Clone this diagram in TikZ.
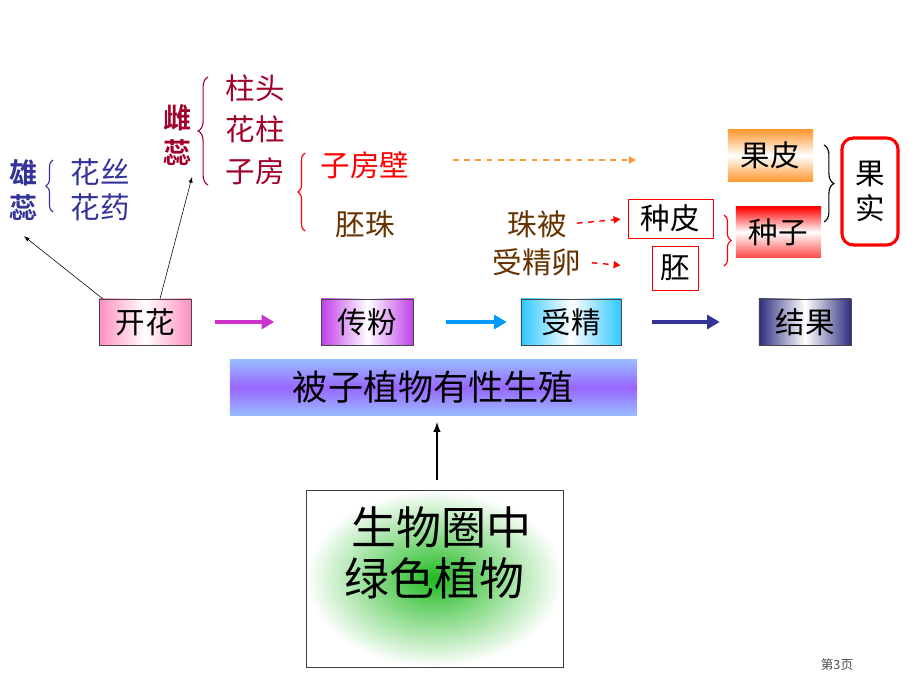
\documentclass[tikz,border=0pt]{standalone}
\usepackage{fontspec}
\setmainfont{Noto Sans CJK SC}[BoldFont={Noto Sans CJK SC Bold}]
\usetikzlibrary{positioning,decorations.pathreplacing,arrows.meta,calc}

\definecolor{xiongblue}{HTML}{333399}
\definecolor{cicrimson}{HTML}{A0002A}
\definecolor{peibrown}{HTML}{663300}
\definecolor{guoorange}{HTML}{FF9933}
\definecolor{kaipink}{HTML}{FF8FC0}
\definecolor{chuanpurple}{HTML}{C040E8}
\definecolor{shoucyan}{HTML}{30C8FF}
\definecolor{jieblue}{HTML}{2E2E80}
\definecolor{arrmagenta}{HTML}{CC33CC}
\definecolor{arrblue}{HTML}{0099FF}
\definecolor{arrnavy}{HTML}{333399}
\definecolor{barlight}{HTML}{CCCCFF}
\definecolor{barblue}{HTML}{99CCFF}
\definecolor{barpurple}{HTML}{9966FF}
\definecolor{lvgreen}{HTML}{22BB22}

\pgfdeclareverticalshading{barshade}{100bp}{color(0bp)=(barblue); color(20bp)=(barblue); color(50bp)=(barpurple); color(80bp)=(barblue); color(92bp)=(barlight); color(100bp)=(barlight)}

\begin{document}
\begin{tikzpicture}[
x=0.025cm, y=-0.025cm,
word/.style={
  inner sep=1pt,
  font=\fontsize{21}{25}\selectfont
  },
vword/.style={
  word,
  align=center,
  font=\fontsize{20}{25}\selectfont\bfseries
  },
stagebox/.style={
  draw=gray!55!black,
  minimum width=2.3cm,
  minimum height=1.15cm,
  inner sep=0pt,
  font=\fontsize{21}{24}\selectfont
  },
redbox/.style={
  draw=red,
  inner sep=0pt,
  font=\fontsize{21}{24}\selectfont
  },
bracer/.style={
  thick,
  decorate,
  decoration={brace,amplitude=6pt}
  },
fatarrow/.style={
  line width=3pt,
  -{Triangle[length=9pt,width=10pt]}
  },
dasharrow/.style={
  line width=1pt,
  dash pattern=on 4pt off 4pt,
  -{Triangle[length=5pt,width=5pt]}
  },
>=latex
]
\useasboundingbox (0,0) rectangle (920,690);

% stamen and pistil
\node[vword, text=xiongblue] (xiongrui) at (24,190) {雄\\蕊};
\node[word, text=xiongblue] (huasi) at (100,172) {花丝};
\node[word, text=xiongblue] (huayao) at (100,207) {花药};
\draw[bracer, xiongblue, decoration={amplitude=5pt}] (53,212) -- (53,160);

\node[vword, text=cicrimson] (cirui) at (178,135) {雌\\蕊};
\node[word, text=cicrimson] (zhutou) at (255,88) {柱头};
\node[word, text=cicrimson] (huazhu) at (255,129) {花柱};
\node[word, text=cicrimson] (zifang) at (255,171) {子房};
\draw[bracer, cicrimson, decoration={amplitude=7pt}] (208,185) -- (208,77);

% ovary
\node[word, text=red] (zifangbi) at (365,165) {子房壁};
\node[word, text=peibrown] (peizhu) at (365,224) {胚珠};
\draw[bracer, red, decoration={amplitude=5pt}] (305,231) -- (305,153);

\node[word, text=peibrown] (zhubei) at (537,224) {珠被};
\node[word, text=peibrown] (shoujingluan) at (537,262) {受精卵};

% seed and fruit
\node[redbox, minimum width=2.125cm, minimum height=0.975cm] (zhongpi) at (670.5,218.5) {种皮};
\node[redbox, minimum width=1.15cm, minimum height=1.1cm] (pei) at (675,268) {胚};
\node[redbox, draw=none, top color=guoorange, bottom color=guoorange, middle color=white,
  minimum width=2.125cm, minimum height=1.275cm] (guopi) at (770.5,155.5) {果皮};
\node[redbox, draw=none, top color=red, bottom color=red!70, middle color=white,
  minimum width=2.125cm, minimum height=1.25cm] (zhongzi) at (778.5,232) {种子};
\node[draw=red, line width=2.2pt, rounded corners=8pt, minimum width=1.4cm, minimum height=2.675cm,
  align=center, font=\fontsize{21}{25.5}\selectfont] (guoshi) at (870,191.5) {果\\实};

\draw[bracer, red, decoration={amplitude=5pt}] (724,215) -- (724,266);
\draw[bracer, black, decoration={amplitude=7pt}] (824,145) -- (824,222);

\coordinate (bitip) at (636,160);
\draw[dasharrow, guoorange, shorten <=1.05cm] (zifangbi.east |- bitip) -- (bitip);
\draw[dasharrow, red, shorten <=0.22cm, shorten >=0.18cm] (zhubei.east) -- (zhongpi.west);
\draw[dasharrow, red, shorten <=0.22cm, shorten >=0.78cm] (shoujingluan.east) -- (pei.west);

% stages
\node[stagebox, left color=kaipink, right color=kaipink, middle color=white] (kaihua) at (145,322) {开花};
\node[stagebox, left color=chuanpurple, right color=chuanpurple, middle color=white] (chuanfen) at (367.5,322) {传粉};
\node[stagebox, minimum width=2.5cm, left color=shoucyan, right color=shoucyan, middle color=white] (shoujing) at (571,322) {受精};
\node[stagebox, left color=jieblue, right color=jieblue, middle color=white] (jieguo) at (805,322) {结果};

\draw[fatarrow, arrmagenta, shorten <=0.6cm, shorten >=1.175cm] (kaihua.east) -- (chuanfen.west);
\draw[fatarrow, arrblue, shorten <=0.8cm, shorten >=0.35cm] (chuanfen.east) -- (shoujing.west);
\draw[fatarrow, arrnavy, shorten <=0.775cm, shorten >=0.975cm] (shoujing.east) -- (jieguo.west);

\coordinate (citip) at (192,177);
\draw[->] ([xshift=0.1cm]kaihua.north west) -- ([yshift=-0.35cm]xiongrui.south);
\draw[->] ([xshift=0.375cm]kaihua.north) -- (citip);

% angiosperm reproduction
\node[shading=barshade, minimum width=10.175cm, minimum height=1.375cm, inner sep=0pt,
  font=\fontsize{25}{28}\selectfont] (beizi) at (433.5,387.5) {被子植物有性生殖};

\node[draw=gray!50!black, inner color=lvgreen, outer color=white,
  minimum width=6.425cm, minimum height=4.425cm] (lvse) at (434.5,578.5) {};
\node[font=\fontsize{32}{36}\selectfont, inner sep=0pt] (shengwuquan) at (441,527) {生物圈中};
\node[font=\fontsize{32}{36}\selectfont, inner sep=0pt] (lvsezhiwu) at (434,578) {绿色植物};

\draw[->, line width=1.4pt, shorten <=0.25cm, shorten >=0.17cm] (lvse.north -| 437,0) -- (beizi.south -| 437,0);

\node[text=gray!60!black, font=\fontsize{9}{10}\selectfont] (yema) at (837,665) {第3页};

\end{tikzpicture}
\end{document}
